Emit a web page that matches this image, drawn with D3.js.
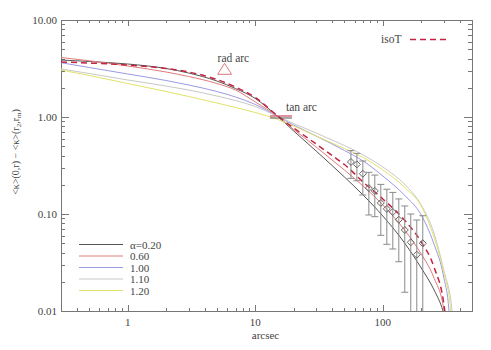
<!DOCTYPE html>
<html>
<head>
<meta charset="utf-8">
<script src="https://cdn.jsdelivr.net/npm/d3@7"></script>
<style>
  body { margin: 0; background: #fff; }
  text { fill: #444; }
</style>
</head>
<body>
<div id="graph"></div>
<script>
// kappa profile plot, log-log

// model curves, [arcsec, <k>(0,r) - <k>(r2,rm)]
let alpha020 = [[0.3,3.869],[0.5,3.734],[1,3.518],[2,3.162],[3,2.842],[5,2.350],[7,1.967],[10,1.551],[15,1.012],[20,0.7174],[30,0.4461],[40,0.3162],[50,0.2406],[70,0.157],[100,0.0954],[150,0.0491],[200,0.02775],[250,0.01686],[296.5,0.01],[315,0.0075]];
let alpha060 = [[0.3,4.106],[0.5,3.797],[1,3.356],[2,2.910],[3,2.616],[5,2.215],[7,1.898],[10,1.428],[15,1.012],[20,0.7431],[30,0.4906],[40,0.3603],[50,0.2842],[70,0.1943],[100,0.1238],[150,0.0668],[200,0.0387],[250,0.0224],[302,0.01],[312,0.006]];
let alpha100 = [[0.3,3.629],[0.5,3.238],[1,2.776],[2,2.378],[3,2.138],[5,1.832],[7,1.608],[10,1.346],[15,1.012],[20,0.827],[30,0.6369],[40,0.5268],[50,0.4515],[70,0.3519],[100,0.2464],[150,0.1533],[200,0.0977],[250,0.0502],[300,0.0224],[330,0.01],[340,0.005]];
let alpha110 = [[0.3,3.125],[0.5,2.809],[1,2.407],[2,2.087],[3,1.898],[5,1.646],[7,1.479],[10,1.283],[15,1.012],[20,0.8571],[30,0.6842],[40,0.5791],[50,0.5084],[70,0.4058],[100,0.3051],[150,0.199],[200,0.1238],[250,0.0652],[300,0.0265],[349,0.01],[360,0.005]];
let alpha120 = [[0.3,3.051],[0.5,2.679],[1,2.215],[2,1.832],[3,1.627],[5,1.394],[7,1.253],[10,1.113],[15,0.9424],[20,0.8077],[30,0.6369],[40,0.5395],[50,0.4735],[70,0.3823],[100,0.2842],[150,0.1854],[200,0.1209],[250,0.0593],[300,0.0252],[341,0.01],[352,0.005]];
let isoT = [[0.3,3.690],[0.5,3.603],[1,3.437],[2,3.162],[3,2.910],[5,2.436],[7,2.038],[10,1.589],[15,1.024],[20,0.770],[30,0.5268],[40,0.401],[50,0.3238],[70,0.2138],[100,0.1428],[150,0.0847],[200,0.0514],[250,0.0291],[306,0.01],[315,0.005]];

let modelCurves = [alpha020, alpha060, alpha100, alpha110, alpha120];
let modelLabels = ["\u03b1=0.20", "0.60", "1.00", "1.10", "1.20"];
let modelColors = ["#555555", "#e07a7a", "#9a9ae6", "#c8c8c8", "#e2e26a"];

// weak lensing points with error bars
let ptR = [56.2, 62.6, 69.7, 77.7, 86.5, 96.4, 107.5, 119.7, 133.4, 148.6, 165.6, 184.5, 205.6];
let ptK = [0.344, 0.325, 0.260, 0.185, 0.173, 0.130, 0.113, 0.105, 0.0873, 0.0684, 0.0511, 0.0381, 0.0499];
let ptHi = [0.450, 0.422, 0.352, 0.269, 0.252, 0.202, 0.180, 0.167, 0.143, 0.121, 0.100, 0.0867, 0.096];
let ptLo = [0.233, 0.220, 0.157, 0.0977, 0.0938, 0.0603, 0.0487, 0.0436, 0.0322, 0.0156, 0.001, 0.001, 0.001];

// arcs
let radArc = [5.75, 3.1];
let tanArc = [15.9, 1.0];

let xTickLabels = [1, 10, 100];
let yTickLabels = [0.01, 0.1, 1, 10];

let svgWidth = 491;
let svgHeight = 350;
let margin = { top: 20, right: 19, bottom: 39, left: 61 };
let width = svgWidth - margin.left - margin.right;
let height = svgHeight - margin.top - margin.bottom;

let svg = d3.select("#graph")
  .append("svg")
  .attr("width", svgWidth)
  .attr("height", svgHeight);

let chartGroup = svg.append("g")
  .attr("transform", `translate(${margin.left}, ${margin.top})`);

svg.append("defs").append("clipPath").attr("id", "plotclip")
  .append("rect").attr("x", 0).attr("y", 0).attr("width", width).attr("height", height);

let xScale = d3.scaleLog().domain([0.3, 500]).range([0, width]);
let yScale = d3.scaleLog().domain([0.01, 10]).range([height, 0]);

// ticks (IDL style, pointing inward on all four sides)
let xMinor = [];
[0.1, 1, 10, 100].forEach(dec => { for (let i = 1; i < 10; i++) { let v = dec * i; if (v >= 0.3 && v <= 500) xMinor.push(v); } });
let yMinor = [];
[0.01, 0.1, 1].forEach(dec => { for (let i = 1; i < 10; i++) yMinor.push(dec * i); });
yMinor.push(10);

let axisColor = "#777";

function tickLen(v, majors, big) {
  return majors.some(m => Math.abs(m - v) / m < 1e-6) ? big : big / 2;
}

let ticks = chartGroup.append("g").attr("stroke", axisColor).attr("stroke-width", 1);
xMinor.forEach(v => {
  let px = Math.round(xScale(v)) + 0.5;
  let l = tickLen(v, xTickLabels, 6);
  ticks.append("line").attr("x1", px).attr("x2", px).attr("y1", height).attr("y2", height - l);
  ticks.append("line").attr("x1", px).attr("x2", px).attr("y1", 0).attr("y2", l);
});
yMinor.forEach(v => {
  let py = Math.round(yScale(v)) + 0.5;
  let l = tickLen(v, yTickLabels, 8);
  ticks.append("line").attr("x1", 0).attr("x2", l).attr("y1", py).attr("y2", py);
  ticks.append("line").attr("x1", width).attr("x2", width - l).attr("y1", py).attr("y2", py);
});

chartGroup.append("rect")
  .attr("x", 0.5).attr("y", 0.5)
  .attr("width", width).attr("height", height)
  .attr("fill", "none").attr("stroke", axisColor);

// tick labels
chartGroup.selectAll(".xlab").data(xTickLabels).enter().append("text")
  .attr("x", d => xScale(d))
  .attr("y", height + 15)
  .attr("text-anchor", "middle")
  .attr("font-family", "'Liberation Serif', serif")
  .attr("font-size", "11px")
  .text(d => d);

chartGroup.selectAll(".ylab").data(yTickLabels).enter().append("text")
  .attr("x", -4)
  .attr("y", d => yScale(d) + 4)
  .attr("text-anchor", "end")
  .attr("font-family", "'Liberation Serif', serif")
  .attr("font-size", "11px")
  .text(d => d.toFixed(2));

// axis titles
chartGroup.append("text")
  .attr("x", width / 2 - 1)
  .attr("y", height + 28)
  .attr("text-anchor", "middle")
  .attr("font-family", "'Liberation Serif', serif")
  .attr("font-size", "11px")
  .text("arcsec");

let yTitle = svg.append("text")
  .attr("transform", "translate(19, 152) rotate(-90)")
  .attr("text-anchor", "middle")
  .attr("font-family", "'Liberation Serif', serif")
  .attr("font-size", "10px");
yTitle.append("tspan").text("<\u03ba>(0,r) \u2212 <\u03ba>(r");
yTitle.append("tspan").attr("font-size", "7px").attr("dy", 2).text("2");
yTitle.append("tspan").attr("dy", -2).text(",r");
yTitle.append("tspan").attr("font-size", "7px").attr("dy", 2).text("m");
yTitle.append("tspan").attr("dy", -2).text(")");

// curves
let plot = chartGroup.append("g").attr("clip-path", "url(#plotclip)");
let line = d3.line()
  .x(d => xScale(d[0]))
  .y(d => yScale(d[1]))
  .curve(d3.curveMonotoneX);

modelCurves.forEach((c, i) => {
  plot.append("path")
    .datum(c)
    .attr("d", line)
    .attr("fill", "none")
    .attr("stroke", modelColors[i])
    .attr("stroke-width", 1);
});

plot.append("path")
  .datum(isoT)
  .attr("d", line)
  .attr("fill", "none")
  .attr("stroke", "#c4243f")
  .attr("stroke-width", 1.5)
  .attr("stroke-dasharray", "6,4");

// error bars
let errColor = "#8a8a8a";
ptR.forEach((r, i) => {
  let px = xScale(r);
  plot.append("line")
    .attr("x1", px).attr("x2", px)
    .attr("y1", yScale(ptLo[i])).attr("y2", yScale(ptHi[i]))
    .attr("stroke", errColor);
  [ptHi[i], ptLo[i]].forEach(v => {
    plot.append("line")
      .attr("x1", px - 3.5).attr("x2", px + 3.5)
      .attr("y1", yScale(v)).attr("y2", yScale(v))
      .attr("stroke", errColor);
  });
  let py = yScale(ptK[i]);
  plot.append("path")
    .attr("d", `M${px},${py - 3.5}L${px + 3.5},${py}L${px},${py + 3.5}L${px - 3.5},${py}Z`)
    .attr("fill", "none")
    .attr("stroke", "#666")
    .attr("stroke-width", 1);
});

// radial arc marker
let rx = xScale(radArc[0]), ry = yScale(radArc[1]);
chartGroup.append("path")
  .attr("d", `M${rx},${ry - 6}L${rx + 7},${ry + 5}L${rx - 7},${ry + 5}Z`)
  .attr("fill", "none")
  .attr("stroke", "#e07a7a");
chartGroup.append("text")
  .attr("x", rx - 7).attr("y", ry - 7)
  .attr("font-family", "'Liberation Serif', serif")
  .attr("font-size", "11.5px")
  .text("rad arc");

// tangential arc marker
let tx = xScale(tanArc[0]), ty = yScale(tanArc[1]);
chartGroup.append("line")
  .attr("x1", tx - 11).attr("x2", tx + 11)
  .attr("y1", ty - 1).attr("y2", ty - 1)
  .attr("stroke", "#c4243f");
chartGroup.append("line")
  .attr("x1", tx - 11).attr("x2", tx + 11)
  .attr("y1", ty + 1).attr("y2", ty + 1)
  .attr("stroke", "#555");
chartGroup.append("text")
  .attr("x", tx + 5).attr("y", ty - 6)
  .attr("font-family", "'Liberation Serif', serif")
  .attr("font-size", "11.5px")
  .text("tan arc");

// legend
let legend = svg.append("g");
modelLabels.forEach((lab, i) => {
  let ly = 244.5 + i * 11.5;
  legend.append("line")
    .attr("x1", 79).attr("x2", 123)
    .attr("y1", ly).attr("y2", ly)
    .attr("stroke", modelColors[i]);
  legend.append("text")
    .attr("x", 130).attr("y", ly + 4)
    .attr("font-family", "'Liberation Serif', serif")
    .attr("font-size", "11px")
    .text(lab);
});

legend.append("text")
  .attr("x", 381).attr("y", 43)
  .attr("font-family", "'Liberation Serif', serif")
  .attr("font-size", "11.5px")
  .text("isoT");
legend.append("line")
  .attr("x1", 410).attr("x2", 449)
  .attr("y1", 39.5).attr("y2", 39.5)
  .attr("stroke", "#c4243f")
  .attr("stroke-width", 1.5)
  .attr("stroke-dasharray", "6,4");
</script>
</body>
</html>
